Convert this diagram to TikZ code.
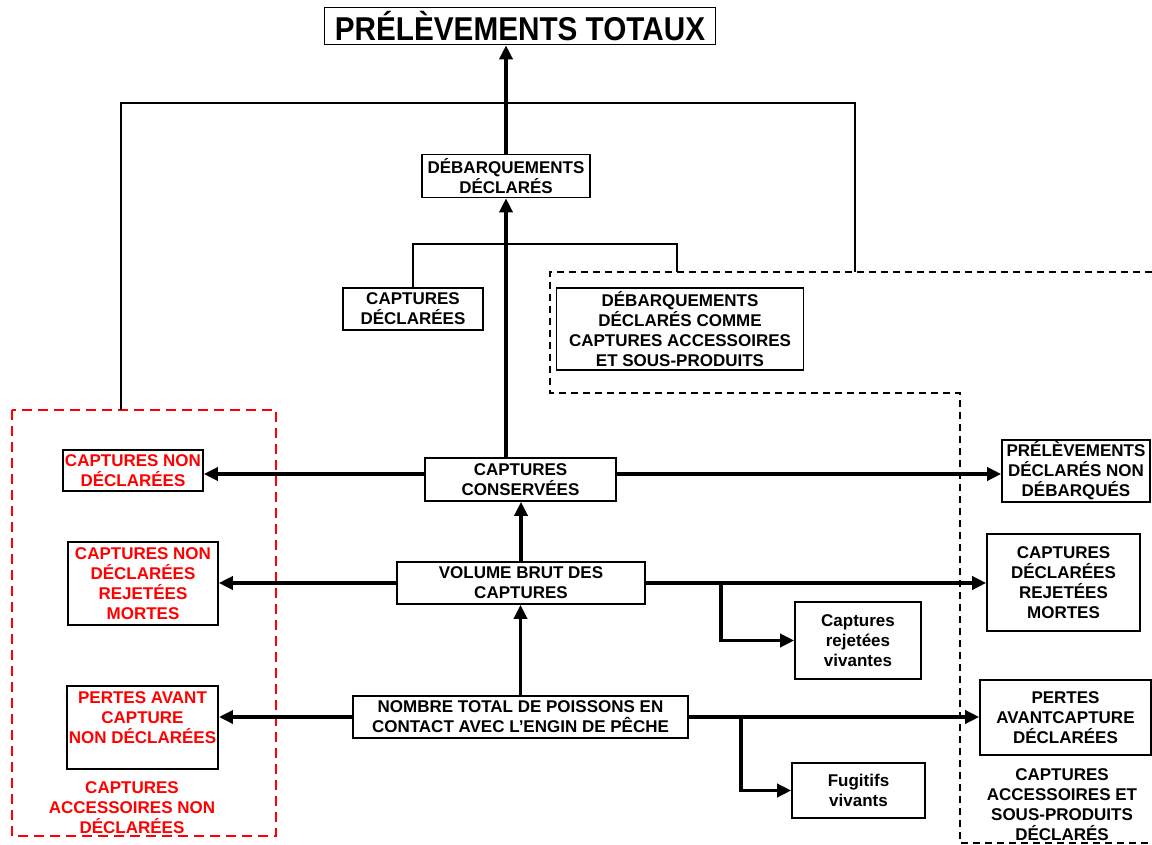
\documentclass[tikz,border=0pt]{standalone}
\usepackage{fontspec}
\usepackage{graphicx}
\usepackage{tikz}
\usetikzlibrary{arrows.meta, positioning, calc}
\setmainfont{Liberation Sans}
\definecolor{lossred}{RGB}{255,0,0}
\newcommand{\boxfont}{\fontsize{8.5}{10}\selectfont\bfseries}

\begin{document}
\begin{tikzpicture}[
    x=0.5pt, y=-0.5pt,
    box/.style={rectangle, draw, line width=0.8pt, align=center, font=\boxfont, inner sep=1pt},
    redbox/.style={box, text=lossred},
    tag/.style={align=center, font=\boxfont, inner sep=0pt},
    flow/.style={-{Triangle[length=7pt,width=6.5pt]}, line width=1.7pt},
    link/.style={line width=0.7pt},
    zoneblack/.style={line width=0.8pt, dash pattern=on 3.5pt off 2.5pt},
    zonered/.style={line width=1.3pt, lossred, dash pattern=on 5pt off 3pt},
]
\useasboundingbox (0,0) rectangle (1152,845);

% top of the chart
\node[box, minimum width=195.5pt, minimum height=18.5pt] (total) at (520,26)
    {\fontsize{16.5}{18}\selectfont\scalebox{0.9}[1]{PRÉLÈVEMENTS TOTAUX}};
\node[box, minimum width=84pt, minimum height=21.5pt] (debdecl) at (506,176) {DÉBARQUEMENTS\\DÉCLARÉS};
\node[box, minimum width=70pt, minimum height=21pt] (capdecl) at (413,309) {CAPTURES\\DÉCLARÉES};
\node[box, minimum width=123.5pt, minimum height=41pt] (debacc) at (680,329)
    {DÉBARQUEMENTS\\DÉCLARÉS COMME\\CAPTURES ACCESSOIRES\\ET SOUS-PRODUITS};

% middle column
\node[box, minimum width=95.5pt, minimum height=21.5pt] (conserv) at (520.5,479.5) {CAPTURES\\CONSERVÉES};
\node[box, minimum width=124pt, minimum height=21pt] (volume) at (521,583) {VOLUME BRUT DES\\CAPTURES};
\node[box, minimum width=167.5pt, minimum height=21pt] (nombre) at (520.5,717)
    {NOMBRE TOTAL DE POISSONS EN\\CONTACT AVEC L’ENGIN DE PÊCHE};

% non declared side
\node[redbox, minimum width=70pt, minimum height=20.5pt] (nondecl) at (133,470.5) {CAPTURES NON\\DÉCLARÉES};
\node[redbox, minimum width=75pt, minimum height=41.5pt] (nondeclrej) at (143,583.5) {CAPTURES NON\\DÉCLARÉES\\REJETÉES\\MORTES};
\node[redbox, minimum width=74.5pt, minimum height=41.5pt] (pertesnd) at (142.5,727.5) {PERTES AVANT\\CAPTURE\\NON DÉCLARÉES\\\mbox{}};
\node[tag, text=lossred] (accnd) at (132,808) {CAPTURES\\ACCESSOIRES NON\\DÉCLARÉES};

% declared side
\node[box, minimum width=74pt, minimum height=31pt] (prelnd) at (1076,471) {PRÉLÈVEMENTS\\DÉCLARÉS NON\\DÉBARQUÉS};
\node[box, minimum width=76.5pt, minimum height=48.5pt] (decrej) at (1063.5,582.5) {CAPTURES\\DÉCLARÉES\\REJETÉES\\MORTES};
\node[box, minimum width=63pt, minimum height=38.5pt] (rejviv) at (858,640.5) {Captures\\rejetées\\vivantes};
\node[box, minimum width=85.5pt, minimum height=37.5pt] (pertesd) at (1065.5,717.5) {PERTES\\AVANTCAPTURE\\DÉCLARÉES};
\node[box, minimum width=66.5pt, minimum height=27.5pt] (fugitifs) at (858.5,790.5) {Fugitifs\\vivants};
\node[tag] (accd) at (1062,805) {CAPTURES\\ACCESSOIRES ET\\SOUS-PRODUITS\\DÉCLARÉS};

% zones
\coordinate (acctop) at (677,272);
\coordinate (outtop) at (855,272);
\coordinate (redtop) at (121,410);
\draw[zoneblack] (1152,272) -- (550,272) -- (550,393) -- (960,393) -- (960,843) -- (1152,843);
\draw[zonered] (12,410) rectangle (276,836);

% links
\draw[link] (capdecl.north) -- ++(0,-43) -| (acctop);
\draw[link] (redtop) -- ++(0,-307) -| (outtop);

% flows
\draw[flow] (debdecl.north) -- (debdecl.north |- total.south);
\draw[flow] (debdecl.south |- conserv.north) -- (debdecl.south);
\draw[flow] ([yshift=2.75pt]conserv.west) -- ([yshift=2.75pt]conserv.west -| nondecl.east);
\draw[flow] ([yshift=2.75pt]conserv.east) -- ([yshift=2.75pt]conserv.east -| prelnd.west);
\draw[flow] (volume.north) -- (volume.north |- conserv.south);
\draw[flow] (volume.west) -- (volume.west -| nondeclrej.east);
\draw[flow] (volume.east) -- (volume.east -| decrej.west);
\draw[flow] ([xshift=37.5pt]volume.east) |- (rejviv.west);
\draw[flow] (nombre.north) -- (nombre.north |- volume.south);
\draw[flow] (nombre.west) -- (nombre.west -| pertesnd.east);
\draw[flow] (nombre.east) -- (nombre.east -| pertesd.west);
\draw[flow] ([xshift=26pt]nombre.east) |- (fugitifs.west);

\end{tikzpicture}
\end{document}
